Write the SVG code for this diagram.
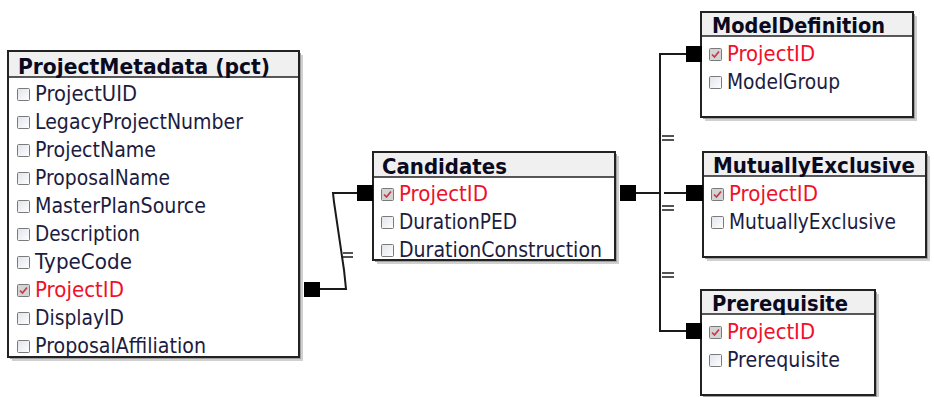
<svg xmlns="http://www.w3.org/2000/svg" width="934" height="397" viewBox="0 0 934 397">
<defs>
<linearGradient id="cb" x1="0" y1="0" x2="1" y2="1">
<stop offset="0" stop-color="#dfe3ea"/>
<stop offset="1" stop-color="#ffffff"/>
</linearGradient>
<g id="box"><rect x="0.5" y="0.5" width="12" height="12" rx="1" fill="url(#cb)" stroke="#7a7a7a" stroke-width="1"/></g>
<g id="chk"><rect x="0.5" y="0.5" width="12" height="12" rx="1" fill="#d4d4d4" stroke="#7a7a7a" stroke-width="1"/><path d="M3,6.5 L5.5,9 L10,3.5" fill="none" stroke="#c43a4a" stroke-width="1.7"/></g>
</defs>
<style>
.sh1{fill:#d0d0d0}
.sh2{fill:#a0a0a0}
.frame{fill:#ffffff;stroke:#222222;stroke-width:2}
.hdr{fill:#f0f0f0}
.sep{stroke:#222222;stroke-width:1.5}
.title{font-family:"DejaVu Sans",Verdana,sans-serif;font-weight:bold;font-size:21px;fill:#0a0a1e}
.fld{font-family:"DejaVu Sans",Verdana,sans-serif;font-size:20.5px;fill:#1c1c40}
.key{font-family:"DejaVu Sans",Verdana,sans-serif;font-size:20.5px;fill:#f0102a}
.ln{fill:none;stroke:#1a1a1a;stroke-width:2}
.eq{stroke:#1a1a1a;stroke-width:1.5}
.sq{fill:#000000}
</style>
<rect width="934" height="397" fill="#ffffff"/>

<g id="ProjectMetadata">
<rect class="sh1" x="12" y="55" width="291" height="306"/>
<rect class="sh2" x="10" y="53" width="291" height="306"/>
<rect class="frame" x="8" y="51" width="291" height="306"/>
<rect class="hdr" x="9" y="52" width="289" height="25"/>
<line class="sep" x1="8" y1="77" x2="299" y2="77"/>
<text class="title" x="18" y="74" textLength="252" lengthAdjust="spacingAndGlyphs">ProjectMetadata (pct)</text>
<use href="#box" x="17" y="88"/><text class="fld" x="35" y="101" textLength="102" lengthAdjust="spacingAndGlyphs">ProjectUID</text>
<use href="#box" x="17" y="116"/><text class="fld" x="35" y="129" textLength="208" lengthAdjust="spacingAndGlyphs">LegacyProjectNumber</text>
<use href="#box" x="17" y="144"/><text class="fld" x="35" y="157" textLength="121" lengthAdjust="spacingAndGlyphs">ProjectName</text>
<use href="#box" x="17" y="172"/><text class="fld" x="35" y="185" textLength="135" lengthAdjust="spacingAndGlyphs">ProposalName</text>
<use href="#box" x="17" y="200"/><text class="fld" x="35" y="213" textLength="171" lengthAdjust="spacingAndGlyphs">MasterPlanSource</text>
<use href="#box" x="17" y="228"/><text class="fld" x="35" y="241" textLength="105" lengthAdjust="spacingAndGlyphs">Description</text>
<use href="#box" x="17" y="256"/><text class="fld" x="35" y="269" textLength="97" lengthAdjust="spacingAndGlyphs">TypeCode</text>
<use href="#chk" x="17" y="284"/><text class="key" x="35" y="297" textLength="89" lengthAdjust="spacingAndGlyphs">ProjectID</text>
<use href="#box" x="17" y="312"/><text class="fld" x="35" y="325" textLength="89" lengthAdjust="spacingAndGlyphs">DisplayID</text>
<use href="#box" x="17" y="340"/><text class="fld" x="35" y="353" textLength="171" lengthAdjust="spacingAndGlyphs">ProposalAffiliation</text>
</g>

<g id="Candidates">
<rect class="sh1" x="377" y="156" width="242" height="108"/>
<rect class="sh2" x="375" y="154" width="242" height="108"/>
<rect class="frame" x="373" y="152" width="242" height="108"/>
<rect class="hdr" x="374" y="153" width="240" height="24"/>
<line class="sep" x1="373" y1="177" x2="615" y2="177"/>
<text class="title" x="382" y="174" textLength="125" lengthAdjust="spacingAndGlyphs">Candidates</text>
<use href="#chk" x="381" y="188"/><text class="key" x="399" y="201" textLength="89" lengthAdjust="spacingAndGlyphs">ProjectID</text>
<use href="#box" x="381" y="216"/><text class="fld" x="399" y="229" textLength="118" lengthAdjust="spacingAndGlyphs">DurationPED</text>
<use href="#box" x="381" y="244"/><text class="fld" x="399" y="257" textLength="203" lengthAdjust="spacingAndGlyphs">DurationConstruction</text>
</g>

<g id="ModelDefinition">
<rect class="sh1" x="705" y="16" width="212" height="105"/>
<rect class="sh2" x="703" y="14" width="212" height="105"/>
<rect class="frame" x="701" y="12" width="212" height="105"/>
<rect class="hdr" x="702" y="13" width="210" height="23"/>
<line class="sep" x1="701" y1="36" x2="913" y2="36"/>
<text class="title" x="712" y="33" textLength="173" lengthAdjust="spacingAndGlyphs">ModelDefinition</text>
<use href="#chk" x="709" y="48"/><text class="key" x="727" y="61" textLength="88" lengthAdjust="spacingAndGlyphs">ProjectID</text>
<use href="#box" x="709" y="76"/><text class="fld" x="727" y="89" textLength="113" lengthAdjust="spacingAndGlyphs">ModelGroup</text>
</g>

<g id="MutuallyExclusive">
<rect class="sh1" x="707" y="156" width="223" height="105"/>
<rect class="sh2" x="705" y="154" width="223" height="105"/>
<rect class="frame" x="703" y="152" width="223" height="105"/>
<rect class="hdr" x="704" y="153" width="221" height="23"/>
<line class="sep" x1="703" y1="176" x2="926" y2="176"/>
<text class="title" x="713" y="173" textLength="202" lengthAdjust="spacingAndGlyphs">MutuallyExclusive</text>
<use href="#chk" x="711" y="188"/><text class="key" x="729" y="201" textLength="89" lengthAdjust="spacingAndGlyphs">ProjectID</text>
<use href="#box" x="711" y="216"/><text class="fld" x="729" y="229" textLength="167" lengthAdjust="spacingAndGlyphs">MutuallyExclusive</text>
</g>

<g id="Prerequisite">
<rect class="sh1" x="705" y="294" width="174" height="105"/>
<rect class="sh2" x="703" y="292" width="174" height="105"/>
<rect class="frame" x="701" y="290" width="174" height="105"/>
<rect class="hdr" x="702" y="291" width="172" height="23"/>
<line class="sep" x1="701" y1="314" x2="875" y2="314"/>
<text class="title" x="712" y="311" textLength="136" lengthAdjust="spacingAndGlyphs">Prerequisite</text>
<use href="#chk" x="709" y="326"/><text class="key" x="727" y="339" textLength="88" lengthAdjust="spacingAndGlyphs">ProjectID</text>
<use href="#box" x="709" y="354"/><text class="fld" x="727" y="367" textLength="113" lengthAdjust="spacingAndGlyphs">Prerequisite</text>
</g>

<g id="connectors">
<polyline class="ln" points="320,289 346,289 344,270 334,202 333,193 357,193"/>
<rect class="sq" x="304" y="282" width="16" height="15"/>
<rect class="sq" x="357" y="185" width="16" height="16"/>
<line class="eq" x1="343" y1="253" x2="353" y2="253"/>
<line class="eq" x1="343" y1="257" x2="353" y2="257"/>

<line class="ln" x1="636" y1="193" x2="660" y2="193"/>
<polyline class="ln" points="686,54 660,54 660,331 686,331"/>
<line class="ln" x1="664" y1="193" x2="686" y2="193"/>
<rect class="sq" x="620" y="185" width="16" height="16"/>
<rect class="sq" x="686" y="185" width="17" height="16"/>
<rect class="sq" x="686" y="46" width="16" height="16"/>
<rect class="sq" x="686" y="323" width="16" height="16"/>
<line class="eq" x1="662" y1="136" x2="674" y2="136"/>
<line class="eq" x1="662" y1="140" x2="674" y2="140"/>
<line class="eq" x1="662" y1="206" x2="674" y2="206"/>
<line class="eq" x1="662" y1="210" x2="674" y2="210"/>
<line class="eq" x1="662" y1="273" x2="674" y2="273"/>
<line class="eq" x1="662" y1="277" x2="674" y2="277"/>
</g>
</svg>
